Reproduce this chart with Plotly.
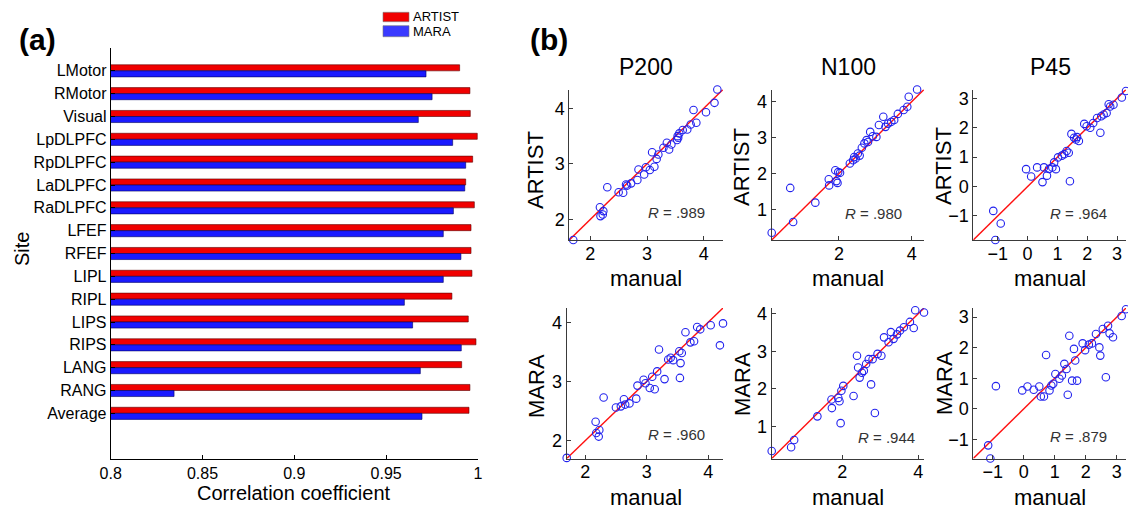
import plotly.graph_objects as go

W, H = 1128, 510
FONT = "Liberation Sans, Arial, Helvetica, sans-serif"

# ---------------- panel (a) data ----------------
sites = ["LMotor", "RMotor", "Visual", "LpDLPFC", "RpDLPFC", "LaDLPFC", "RaDLPFC", "LFEF",
         "RFEF", "LIPL", "RIPL", "LIPS", "RIPS", "LANG", "RANG", "Average"]
artist_r = [0.9900, 0.9956, 0.9958, 0.9996, 0.9971, 0.9933, 0.9980, 0.9962,
            0.9962, 0.9967, 0.9858, 0.9947, 0.9989, 0.9911, 0.9956, 0.9951]
mara_r = [0.9717, 0.9750, 0.9675, 0.9862, 0.9933, 0.9928, 0.9866, 0.9811,
          0.9907, 0.9811, 0.9599, 0.9644, 0.9909, 0.9686, 0.8345, 0.9695]
corr_ticks = [0.8, 0.85, 0.9, 0.95, 1.0]
corr_tick_labels = ["0.8", "0.85", "0.9", "0.95", "1"]

# ---------------- panel (b) data ----------------
p200_manual = [1.70, 2.17, 2.18, 2.22, 2.23, 2.30, 2.50, 2.58, 2.63, 2.65, 2.72, 2.83,
               2.85, 2.95, 2.98, 3.05, 3.09, 3.13, 3.17, 3.20, 3.29, 3.35, 3.39, 3.43,
               3.53, 3.54, 3.55, 3.57, 3.63, 3.71, 3.77, 3.82, 3.87, 4.04, 4.19, 4.24]
p200_artist = [1.63, 2.22, 2.06, 2.09, 2.15, 2.58, 2.49, 2.48, 2.63, 2.61, 2.65, 2.71,
               2.90, 2.81, 2.94, 2.89, 3.21, 2.95, 3.09, 3.17, 3.29, 3.38, 3.26, 3.35,
               3.43, 3.50, 3.47, 3.55, 3.61, 3.62, 3.71, 3.97, 3.74, 3.93, 4.10, 4.34]
p200_mara = [1.71, 2.32, 2.13, 2.07, 2.18, 2.73, 2.56, 2.58, 2.70, 2.61, 2.63, 2.71,
             2.93, 3.03, 2.97, 2.89, 3.08, 2.87, 3.17, 3.54, 3.04, 3.37, 3.40, 3.36,
             3.51, 3.06, 3.31, 3.48, 3.83, 3.66, 3.68, 3.92, 3.88, 3.95, 3.61, 3.98]

n100_manual = [0.15, 0.66, 0.74, 1.35, 1.72, 1.73, 1.90, 1.93, 1.96, 1.98, 2.03, 2.30,
               2.39, 2.42, 2.46, 2.52, 2.57, 2.63, 2.70, 2.76, 2.80, 2.86, 2.93, 3.03,
               3.10, 3.22, 3.28, 3.35, 3.44, 3.52, 3.62, 3.78, 3.88, 3.92, 4.15]
n100_artist = [0.35, 1.60, 0.65, 1.19, 1.84, 1.67, 2.09, 1.79, 1.74, 2.04, 2.02, 2.28,
               2.37, 2.46, 2.42, 2.56, 2.50, 2.72, 2.84, 2.93, 2.88, 3.16, 3.04, 3.02,
               3.35, 3.58, 3.30, 3.39, 3.44, 3.49, 3.66, 3.77, 3.86, 4.14, 4.34]
n100_mara = [0.35, 0.45, 0.64, 1.27, 1.72, 1.49, 1.76, 1.67, 1.09, 1.95, 2.08, 1.81,
             2.88, 2.57, 2.30, 2.43, 2.48, 2.66, 2.79, 2.12, 2.79, 1.36, 2.93, 2.88,
             3.37, 3.24, 3.51, 3.33, 3.45, 3.55, 3.64, 3.78, 3.62, 4.09, 4.03]

p45_manual = [-1.15, -1.08, -0.90, -0.05, 0.12, 0.32, 0.50, 0.55, 0.65, 0.72, 0.83, 0.89,
              0.95, 1.02, 1.15, 1.23, 1.31, 1.38, 1.42, 1.47, 1.56, 1.62, 1.66, 1.72,
              1.90, 1.98, 2.10, 2.20, 2.33, 2.44, 2.47, 2.55, 2.65, 2.72, 2.77, 2.88,
              3.16, 3.30]
p45_artist = [-0.83, -1.82, -1.26, 0.59, 0.34, 0.65, 0.15, 0.65, 0.37, 0.60, 0.65, 0.82,
              0.59, 0.99, 1.05, 1.10, 1.21, 1.15, 0.18, 1.79, 1.66, 1.60, 1.68, 1.55,
              2.13, 2.05, 2.00, 2.16, 2.33, 1.83, 2.39, 2.45, 2.50, 2.80, 2.72, 2.78,
              3.03, 3.25]
p45_mara = [-1.20, -1.63, 0.74, 0.60, 0.73, 0.62, 0.73, 0.40, 0.40, 1.76, 0.60, 0.76,
            0.82, 1.14, 0.98, 1.09, 1.47, 1.30, 0.46, 2.39, 0.92, 1.96, 1.58, 0.92,
            2.14, 1.92, 2.10, 2.14, 2.45, 2.01, 1.74, 2.61, 1.03, 2.72, 2.47, 2.34,
            3.04, 3.26]

components = ["P200", "N100", "P45"]
manual_sets = [p200_manual, n100_manual, p45_manual]
artist_sets = [p200_artist, n100_artist, p45_artist]
mara_sets = [p200_mara, n100_mara, p45_mara]
r_artist = [".989", ".980", ".964"]
r_mara = [".960", ".944", ".879"]
x_tick_sets = [[2, 3, 4], [2, 4], [-1, 0, 1, 2, 3]]
y_tick_sets = [[2, 3, 4], [1, 2, 3, 4], [-1, 0, 1, 2, 3]]
row_names = ["ARTIST", "MARA"]

# ---------------- helpers ----------------
def fx(px):
    return px / W

def fy(py):
    return 1 - py / H

RED = "#f00000"
BLUE = "#1a1aff"
AX = "#3a3a3a"

fig = go.Figure()

# ---------------- panel (a) ----------------
fig.add_trace(go.Bar(y=sites, x=artist_r, orientation="h", name="ARTIST",
                     marker=dict(color=RED, line=dict(color="#5a0000", width=0.6)),
                     xaxis="x", yaxis="y", showlegend=False))
fig.add_trace(go.Bar(y=sites, x=mara_r, orientation="h", name="MARA",
                     marker=dict(color=BLUE, line=dict(color="#00005a", width=0.6)),
                     xaxis="x", yaxis="y", showlegend=False))

layout = dict(
    width=W, height=H, margin=dict(l=0, r=0, t=0, b=0, autoexpand=False),
    paper_bgcolor="white", plot_bgcolor="white",
    font=dict(family=FONT, color="black"),
    barmode="group", bargap=0.47, bargroupgap=0,
    showlegend=False,
    xaxis=dict(domain=[fx(110.7), fx(478)], range=[0.8, 1.0], anchor="y",
               automargin=False,
               tickvals=corr_ticks, ticktext=corr_tick_labels,
               ticks="inside", ticklen=4, tickcolor="black",
               showline=True, linecolor="black", linewidth=1,
               showgrid=False, zeroline=False, tickfont=dict(size=16)),
    yaxis=dict(domain=[fy(459), fy(48)], type="category", categoryorder="array",
               categoryarray=sites, range=[17, -1], anchor="x",
               automargin=False,
               ticks="inside", ticklen=4, tickcolor="black",
               showline=True, linecolor="black", linewidth=1,
               showgrid=False, zeroline=False, tickfont=dict(size=16)),
)

annotations = [
    dict(text="<b>(a)</b>", x=fx(37), y=fy(40), font=dict(size=30)),
    dict(text="<b>(b)</b>", x=fx(549), y=fy(40), font=dict(size=30)),
    dict(text="Site", x=fx(22), y=fy(249), textangle=-90, font=dict(size=20)),
    dict(text="Correlation coefficient", x=fx(294), y=fy(493), font=dict(size=20)),
    dict(text="ARTIST", x=fx(411), y=fy(17), xanchor="left", font=dict(size=13)),
    dict(text="MARA", x=fx(411), y=fy(31), xanchor="left", font=dict(size=13)),
]

shapes = [
    dict(type="rect", xref="paper", yref="paper", x0=fx(383), x1=fx(409),
         y0=fy(21.7), y1=fy(12.3), fillcolor=RED, line=dict(color="#777", width=0.6)),
    dict(type="rect", xref="paper", yref="paper", x0=fx(383), x1=fx(409),
         y0=fy(36.7), y1=fy(25.7), fillcolor="#3a3aff", line=dict(color="#777", width=0.6)),
]

# ---------------- panel (b) ----------------
x_dom = [[(569.3, 723), (771.7, 924), (973.3, 1126)],
         [(566.7, 723), (771.7, 924), (973.3, 1126)]]
y_dom = [(89.5, 240), (308, 458.5)]
title_x = [646, 848, 1050]
ytitle_x = [536, 742, 944]
ytitle_y = [[170, 167, 166], [386, 384, 383]]
manual_y = [278, 497]
r_pos = [[(676, 212), (873, 213), (1078, 213)],
         [(676, 434), (886, 437), (1078, 436)]]

k = 2
for r in range(2):
    for c in range(3):
        xs = manual_sets[c]
        ys = artist_sets[c] if r == 0 else mara_sets[c]
        lo = min(min(xs), min(ys))
        hi = max(max(xs), max(ys))
        xa, ya = "x%d" % k, "y%d" % k
        fig.add_trace(go.Scatter(x=[lo, hi], y=[lo, hi], mode="lines",
                                 line=dict(color="#ff1010", width=1.4),
                                 xaxis=xa, yaxis=ya, cliponaxis=False, showlegend=False))
        fig.add_trace(go.Scatter(x=xs, y=ys, mode="markers",
                                 marker=dict(symbol="circle-open", size=7.5, color="#2222ee",
                                             line=dict(width=1.1)),
                                 xaxis=xa, yaxis=ya, cliponaxis=False, showlegend=False))
        ax_common = dict(showline=True, linecolor=AX, linewidth=1, ticks="inside",
                         ticklen=4, tickcolor=AX, showgrid=False, zeroline=False,
                         automargin=False, tickfont=dict(size=18, color="black"))
        x0, x1 = x_dom[r][c]
        y0, y1 = y_dom[r]
        layout["xaxis%d" % k] = dict(domain=[fx(x0), fx(x1)], range=[lo, hi], anchor=ya,
                                     tickvals=x_tick_sets[c], ticklabelstandoff=-3,
                                     **ax_common)
        layout["yaxis%d" % k] = dict(domain=[fy(y1), fy(y0)], range=[lo, hi], anchor=xa,
                                     tickvals=y_tick_sets[c], **ax_common)
        # labels
        annotations.append(dict(text=row_names[r], x=fx(ytitle_x[c]), y=fy(ytitle_y[r][c]),
                                textangle=-90, font=dict(size=22)))
        annotations.append(dict(text="manual", x=fx(title_x[c]), y=fy(manual_y[r]),
                                font=dict(size=22)))
        rv = r_artist[c] if r == 0 else r_mara[c]
        annotations.append(dict(text="<i>R</i> = " + rv, x=fx(r_pos[r][c][0]),
                                y=fy(r_pos[r][c][1]), font=dict(size=15, color="#333333")))
        k += 1

for c in range(3):
    annotations.append(dict(text=components[c], x=fx(title_x[c]), y=fy(67),
                            font=dict(size=23)))

for a in annotations:
    a.setdefault("xref", "paper")
    a.setdefault("yref", "paper")
    a.setdefault("showarrow", False)
    a.setdefault("xanchor", "center")
    a.setdefault("yanchor", "middle")

layout["annotations"] = annotations
layout["shapes"] = shapes
fig.update_layout(**layout)

fig.write_html("out.html")
